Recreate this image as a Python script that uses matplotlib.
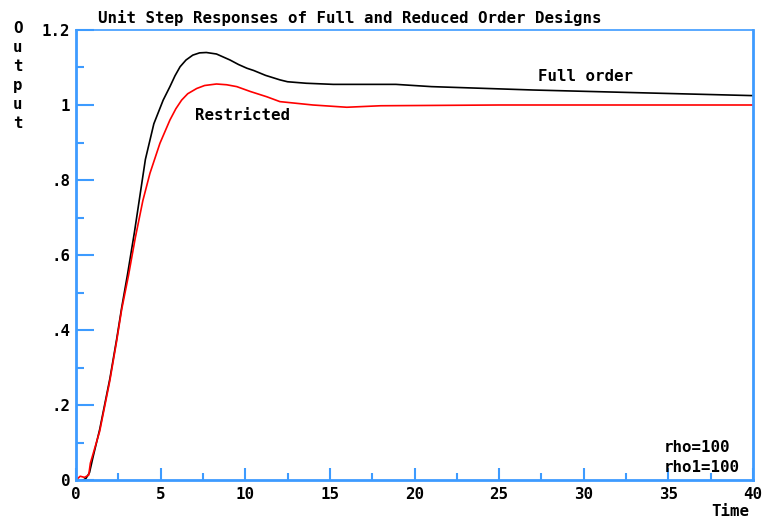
import matplotlib
matplotlib.use("Agg")
import matplotlib.pyplot as plt
from matplotlib.ticker import FixedLocator

# Data
t_full = [0, 0.3, 0.6, 0.8, 1.0, 1.4, 2.0, 2.4, 2.7, 3.05, 3.45, 3.75, 4.1, 4.6,
          5.15, 5.55, 5.85, 6.15, 6.5, 6.9, 7.3, 7.7, 8.3, 9.1, 9.6, 10.1,
          10.5, 11.2, 12.05, 12.5, 13.6, 15.2, 18.9, 21, 27, 33, 40]
y_full = [0, -0.004, 0.005, 0.02, 0.06, 0.135, 0.27, 0.375, 0.46, 0.55, 0.66,
          0.75, 0.855, 0.95, 1.013, 1.049, 1.078, 1.102, 1.12, 1.133, 1.139,
          1.140, 1.136, 1.12, 1.108, 1.098, 1.092, 1.079, 1.067, 1.062, 1.058,
          1.055, 1.055, 1.049, 1.040, 1.033, 1.025]

t_restr = [0, 0.25, 0.5, 0.75, 0.85, 1.4, 2.0, 2.4, 2.7, 3.1, 3.5, 3.95, 4.37,
           4.96, 5.55, 5.9, 6.24, 6.6, 7.13, 7.6, 8.3, 8.9, 9.5, 10.3, 11.27,
           12.05, 14.0, 16.0, 18.0, 25, 40]
y_restr = [0, 0.01, 0.007, 0.013, 0.045, 0.13, 0.265, 0.37, 0.455, 0.545, 0.645,
           0.745, 0.818, 0.898, 0.96, 0.99, 1.013, 1.03, 1.044, 1.052, 1.056,
           1.054, 1.049, 1.036, 1.022, 1.009, 1.0, 0.994, 0.998, 1.0, 1.0]

x_major = [0, 5, 10, 15, 20, 25, 30, 35, 40]
x_minor = [2.5, 7.5, 12.5, 17.5, 22.5, 27.5, 32.5, 37.5]
y_major = [0, 0.2, 0.4, 0.6, 0.8, 1.0, 1.2]
y_major_labels = ["0", ".2", ".4", ".6", ".8", "1", "1.2"]
y_minor = [0.1, 0.3, 0.5, 0.7, 0.9, 1.1]

title = "Unit Step Responses of Full and Reduced Order Designs"

FONT = dict(family="DejaVu Sans Mono", weight="bold", size=11.3)
BLUE = "#3d9bff"

fig = plt.figure(figsize=(7.64, 5.19), dpi=100)
ax = fig.add_axes([76/764, 39/519, 677/764, 450/519])

ax.plot(t_full, y_full, color="black", lw=1.2)
ax.plot(t_restr, y_restr, color="#ff0000", lw=1.2)

ax.set_xlim(0, 40)
ax.set_ylim(0, 1.2)

for s in ["left", "bottom", "right"]:
    ax.spines[s].set_color(BLUE)
    ax.spines[s].set_linewidth(2)
ax.spines["top"].set_color(BLUE)
ax.spines["top"].set_linewidth(1.2)

ax.xaxis.set_major_locator(FixedLocator(x_major))
ax.xaxis.set_minor_locator(FixedLocator(x_minor))
ax.yaxis.set_major_locator(FixedLocator(y_major))
ax.yaxis.set_minor_locator(FixedLocator(y_minor))
ax.set_yticklabels(y_major_labels)
ax.set_xticklabels([str(v) for v in x_major])

ax.tick_params(axis="y", which="major", direction="in", length=13, width=1.5,
               color=BLUE, pad=4)
ax.tick_params(axis="y", which="minor", direction="in", length=6, width=1.5,
               color=BLUE)
ax.tick_params(axis="x", which="major", direction="in", length=9, width=1.5,
               color=BLUE, pad=5)
ax.tick_params(axis="x", which="minor", direction="in", length=5, width=1.5,
               color=BLUE)
for lab in ax.get_xticklabels() + ax.get_yticklabels():
    lab.set_fontfamily(FONT["family"])
    lab.set_fontweight("bold")
    lab.set_fontsize(FONT["size"])

ax.text(27.3, 1.075, "Full order", va="center", ha="left", **FONT)
ax.text(7.03, 0.973, "Restricted", va="center", ha="left", **FONT)
ax.text(34.7, 0.088, "rho=100", va="center", ha="left", **FONT)
ax.text(34.7, 0.032, "rho1=100", va="center", ha="left", **FONT)

fig.text(98/764, 1 - 18/519, title, va="center", ha="left", **FONT)
fig.text(18/764, 1 - 21/519, "O\nu\nt\np\nu\nt", va="top", ha="center",
         linespacing=1.33, **FONT)
fig.text(730/764, 1 - 512/519, "Time", va="center", ha="center", **FONT)

fig.savefig("out.png", dpi=100, facecolor="white")
